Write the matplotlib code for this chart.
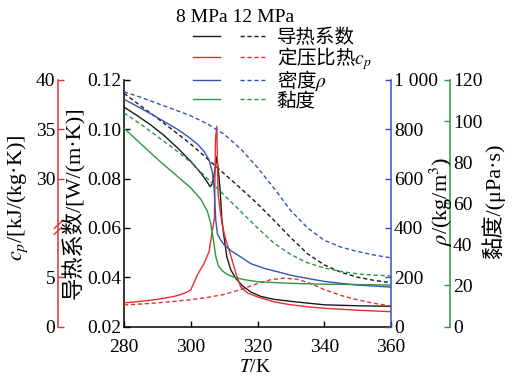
import numpy as np
import matplotlib
matplotlib.use("Agg")
import matplotlib.pyplot as plt
from matplotlib.legend_handler import HandlerTuple

plt.rcParams['font.family'] = ['Liberation Serif', 'Noto Sans CJK SC']
plt.rcParams['mathtext.fontset'] = 'stix'
plt.rcParams['axes.unicode_minus'] = False

# -------- DATA --------
# thermal conductivity, W/(m K)
T_k8 = [280, 284, 288, 292, 296, 300, 303, 305, 305.8, 306.5, 307.2, 307.8, 308.3, 308.8,
        309.3, 309.8, 310.8, 312, 313.5, 315.5, 318, 321, 325, 330, 335, 340, 350, 360]
k8 = [0.1090, 0.1055, 0.1018, 0.0975, 0.0925, 0.0870, 0.0823, 0.0785, 0.0767, 0.0780, 0.0830,
      0.0889, 0.0830, 0.0754, 0.0640, 0.0580, 0.0483, 0.0430, 0.0395, 0.0365, 0.0340, 0.0322,
      0.0310, 0.0302, 0.0295, 0.0288, 0.0284, 0.0282]
T_k12 = [280, 285, 290, 295, 300, 305, 310, 315, 320, 325, 330, 335, 340, 345, 350, 355, 360]
k12 = [0.1146, 0.1095, 0.1045, 0.0993, 0.0940, 0.0880, 0.0820, 0.0760, 0.0698, 0.0630, 0.0560,
       0.0495, 0.0450, 0.0420, 0.0400, 0.0387, 0.0378]

# specific heat cp, kJ/(kg K)
T_cp8 = [280, 285, 290, 295, 298, 300, 302, 304, 305.5, 306.5, 307.1, 307.4, 307.8, 308.2, 308.8,
         309.5, 310.5, 312, 313.5, 315, 317, 320, 325, 330, 335, 340, 350, 360]
cp8 = [2.40, 2.55, 2.75, 3.05, 3.35, 3.70, 5.6, 8.5, 11.5, 17.0, 20.0, 34.0, 35.3, 26.0, 22.0,
       18.0, 14.5, 10.5, 6.0, 4.0, 3.4, 3.0, 2.5, 2.2, 2.0, 1.85, 1.65, 1.5]
T_cp12 = [280, 285, 290, 295, 300, 305, 310, 315, 320, 324, 328, 332, 336, 340, 345, 350, 355, 360]
cp12 = [2.18, 2.28, 2.40, 2.55, 2.72, 2.95, 3.25, 3.75, 4.35, 4.75, 4.90, 4.80, 4.35, 3.75,
        3.15, 2.70, 2.35, 2.08]

# density, kg/m3
T_rho8 = [280, 284, 288, 292, 296, 299, 302, 304, 305.5, 306.5, 307.0, 307.5, 308.0, 309, 310,
          312, 315, 318, 322, 326, 330, 335, 340, 345, 350, 355, 360]
rho8 = [922, 893, 863, 832, 800, 772, 740, 710, 675, 625, 560, 430, 375, 350, 332, 308, 282,
        255, 236, 222, 208, 195, 183, 175, 168, 164, 160]
T_rho12 = [280, 285, 290, 295, 300, 305, 310, 315, 320, 325, 330, 335, 340, 345, 350, 355, 360]
rho12 = [952, 930, 905, 880, 855, 822, 780, 720, 645, 560, 470, 400, 350, 322, 304, 290, 278]

# viscosity, uPa s
T_mu8 = [280, 285, 290, 295, 300, 303, 305, 306, 306.8, 307.5, 308.3, 309.5, 311, 313, 316,
         320, 330, 340, 350, 360]
mu8 = [96.5, 89.0, 81.5, 74.5, 67.5, 62.0, 56.0, 50.0, 42.0, 34.0, 29.5, 27.0, 25.3, 24.0,
       22.8, 21.8, 21.0, 20.6, 20.4, 20.2]
T_mu12 = [280, 285, 290, 295, 300, 305, 310, 315, 320, 325, 330, 335, 340, 345, 350, 355, 360]
mu12 = [104, 98.5, 92.5, 86.5, 80, 72, 64, 56, 48, 40.5, 35, 31, 28.5, 26.8, 25.6, 25, 24.6]

legend_labels = ['导热系数', '定压比热$c_p$', '密度$\\rho$', '黏度']

# -------- STYLE --------
c_k = '#1a1a1a'
c_cp = '#e2302e'
c_rho = '#3553b8'
c_mu = '#2e9444'
dash = (0, (3, 2))
lw = 1.0
fs = 14
fs_lab = 16
px2pt = 72 / 100  # spine offsets are in points


# broken cp axis: 0-5 linear, 5-30 squeezed, 30-40 linear
def cp_fwd(v):
    v = np.asarray(v, dtype=float)
    return np.where(v <= 5, v, np.where(v < 30, 5 + 0.4 * (v - 5), v - 15))


def cp_inv(d):
    d = np.asarray(d, dtype=float)
    return np.where(d <= 5, d, np.where(d < 15, 5 + (d - 5) / 0.4, d + 15))


# -------- PLOT --------
fig = plt.figure(figsize=(5.28, 3.77), dpi=100)
ax = fig.add_axes([124 / 528, 1 - 326.5 / 377, 267 / 528, 246.5 / 377])

ax_cp = ax.twinx()
ax_rho = ax.twinx()
ax_mu = ax.twinx()

l_k8, = ax.plot(T_k8, k8, color=c_k, lw=lw)
l_k12, = ax.plot(T_k12, k12, color=c_k, lw=lw, ls=dash)
l_cp8, = ax_cp.plot(T_cp8, cp8, color=c_cp, lw=lw)
l_cp12, = ax_cp.plot(T_cp12, cp12, color=c_cp, lw=lw, ls=dash)
l_rho8, = ax_rho.plot(T_rho8, rho8, color=c_rho, lw=lw)
l_rho12, = ax_rho.plot(T_rho12, rho12, color=c_rho, lw=lw, ls=dash)
l_mu8, = ax_mu.plot(T_mu8, mu8, color=c_mu, lw=lw)
l_mu12, = ax_mu.plot(T_mu12, mu12, color=c_mu, lw=lw, ls=dash)

# main axis (thermal conductivity)
ax.set_xlim(280, 360)
ax.set_ylim(0.02, 0.12)
ax.set_xticks([280, 300, 320, 340, 360])
ax.set_yticks([0.02, 0.04, 0.06, 0.08, 0.10, 0.12])
ax.set_yticklabels(['%.2f' % v for v in [0.02, 0.04, 0.06, 0.08, 0.10, 0.12]])
ax.tick_params(direction='in', labelsize=fs, length=4, width=1, pad=2)
ax.tick_params(axis='x', pad=9)
ax.spines['top'].set_visible(False)
ax.spines['right'].set_visible(False)
for s in ['left', 'bottom']:
    ax.spines[s].set_linewidth(1.1)

# cp axis on the far left
ax_cp.set_yscale('function', functions=(cp_fwd, cp_inv))
ax_cp.set_ylim(0, 40)
ax_cp.set_yticks([0, 5, 30, 35, 40])
ax_cp.set_yticklabels(['0', '5', '30', '35', '40'])
ax_cp.minorticks_off()
ax_cp.yaxis.tick_left()
ax_cp.yaxis.set_label_position('left')
for s in ['top', 'right', 'bottom']:
    ax_cp.spines[s].set_visible(False)
ax_cp.spines['left'].set_visible(True)
ax_cp.spines['left'].set_position(('outward', 66 * px2pt))
ax_cp.spines['left'].set_color(c_cp)
ax_cp.spines['left'].set_linewidth(1.1)
ax_cp.tick_params(axis='y', direction='in', colors=c_cp, labelcolor='black',
                  labelsize=fs, length=4, width=1, pad=2)
# break marks on the cp spine
xb = -66 / 267
yb = 10 / 25
for dy in (-0.012, 0.012):
    ax_cp.plot([xb - 0.014, xb + 0.014], [yb + dy - 0.014, yb + dy + 0.014],
               transform=ax_cp.transAxes, color=c_cp, lw=1, clip_on=False)

# density axis
ax_rho.set_ylim(0, 1000)
ax_rho.set_yticks([0, 200, 400, 600, 800, 1000])
ax_rho.set_yticklabels(['0', '200', '400', '600', '800', '1 000'])
for s in ['top', 'left', 'bottom']:
    ax_rho.spines[s].set_visible(False)
ax_rho.spines['right'].set_color(c_rho)
ax_rho.spines['right'].set_linewidth(1.1)
ax_rho.tick_params(axis='y', direction='in', colors=c_rho, labelcolor='black',
                   labelsize=fs, length=4, width=1, pad=2)

# viscosity axis
ax_mu.set_ylim(0, 120)
ax_mu.set_yticks([0, 20, 40, 60, 80, 100, 120])
for s in ['top', 'left', 'bottom']:
    ax_mu.spines[s].set_visible(False)
ax_mu.spines['right'].set_position(('outward', 59 * px2pt))
ax_mu.spines['right'].set_color(c_mu)
ax_mu.spines['right'].set_linewidth(1.1)
ax_mu.tick_params(axis='y', direction='in', colors=c_mu, labelcolor='black',
                  labelsize=fs, length=4, width=1, pad=2)

# axis labels
fig.text(255 / 528, 1 - 367 / 377, '$T$/K', ha='center', va='center', fontsize=fs)
fig.text(18 / 528, 1 - 198 / 377, '$c_p$/[kJ/(kg·K)]', rotation=90, ha='center', va='center', fontsize=fs_lab)
fig.text(73 / 528, 1 - 203 / 377, '导热系数/[W/(m·K)]', rotation=90, ha='center', va='center', fontsize=fs_lab)
fig.text(441 / 528, 1 - 201 / 377, '$\\rho$/(kg/m$^3$)', rotation=90, ha='center', va='center', fontsize=fs_lab)
fig.text(493 / 528, 1 - 201 / 377, '黏度/(μPa·s)', rotation=90, ha='center', va='center', fontsize=fs_lab)

# legend (CJK font first so the plain part of mixed math labels renders)
fig.text(235 / 528, 1 - 17 / 377, '8 MPa 12 MPa', ha='center', va='center', fontsize=fs)
handles = [(l_k8, l_k12), (l_cp8, l_cp12), (l_rho8, l_rho12), (l_mu8, l_mu12)]
leg = fig.legend(handles, legend_labels, loc='upper left',
                 bbox_to_anchor=(193 / 528, 1 - 27 / 377),
                 handler_map={tuple: HandlerTuple(ndivide=2, pad=1.0)},
                 handlelength=3.8, handletextpad=0.5, labelspacing=-0.17,
                 borderpad=0, borderaxespad=0, frameon=False,
                 prop={'family': 'Noto Sans CJK SC', 'size': fs})

plt.savefig('out.png', dpi=100)
